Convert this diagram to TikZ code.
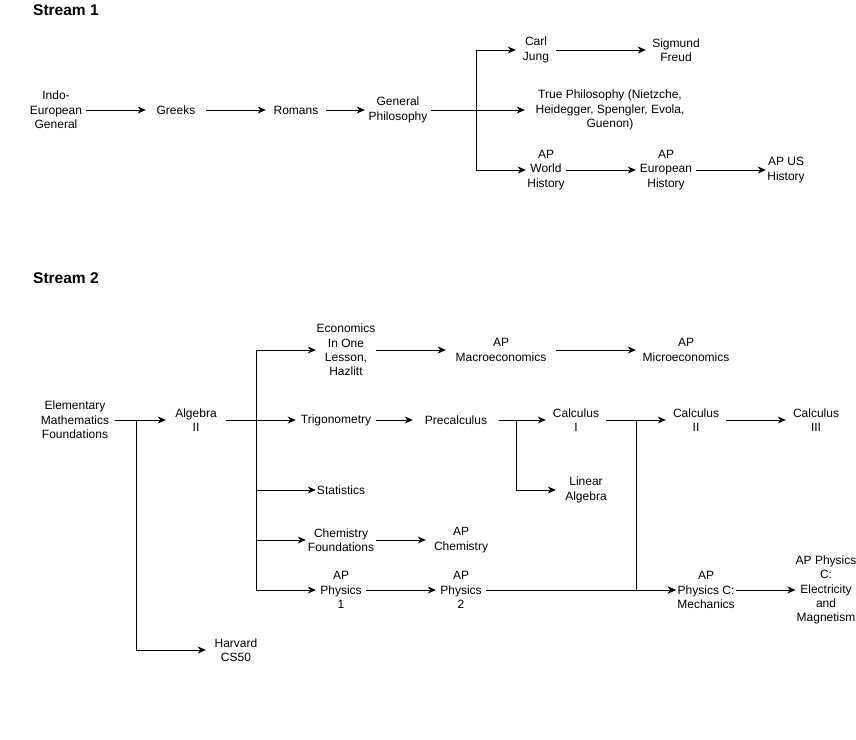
\documentclass[tikz,border=0pt]{standalone}
\usepackage{fontspec}
\setmainfont{Liberation Sans}
\usepackage{tikz}
\usetikzlibrary{arrows.meta}

\begin{document}
\begin{tikzpicture}[
    x=1pt, y=-1pt,
    topic/.style={align=center, inner sep=0pt, minimum width=60pt, minimum height=30pt, font=\fontsize{12}{14.4}\selectfont},
    heading/.style={anchor=west, inner sep=0pt, font=\bfseries\fontsize{15.5}{18}\selectfont},
    arr/.style={-{Stealth[length=8pt, width=7pt, inset=2.5pt]}, line width=1pt}
]
    \useasboundingbox (0,0) rectangle (856,739);

    % Stream 1
    \node [heading] (stream1) at (33,10.5) {Stream 1};
    \node [topic] (indo) at (56,110) {Indo-\\European\\General};
    \node [topic] (greeks) at (176,110) {Greeks};
    \node [topic] (romans) at (296,110) {Romans};
    \node [topic, minimum width=66pt] (genphil) at (398,110) {General\\Philosophy};
    \node [topic, minimum width=40pt] (jung) at (536,50) {Carl\\Jung};
    \node [topic] (freud) at (676,50) {Sigmund\\Freud};
    \node [topic, minimum width=170pt] (truephil) at (610,110) {True Philosophy (Nietzche,\\Heidegger, Spengler, Evola,\\Guenon)};
    \node [topic, minimum width=40pt] (apworld) at (546,170) {AP\\World\\History};
    \node [topic] (apeuro) at (666,170) {AP\\European\\History};
    \node [topic, minimum width=40pt] (apus) at (786,170) {AP US\\History};
    \coordinate (j1) at (476,110);

    \foreach \from/\to in {indo/greeks, greeks/romans, romans/genphil, genphil/truephil, jung/freud, apworld/apeuro, apeuro/apus}
        \draw [arr] (\from) -- (\to);
    \foreach \to in {jung, apworld}
        \draw [arr] (j1) |- (\to);

    % Stream 2
    \node [heading] (stream2) at (33,278) {Stream 2};
    \node [topic, minimum width=80pt] (elem) at (75,420) {Elementary\\Mathematics\\Foundations};
    \node [topic] (alg2) at (196,420) {Algebra\\II};
    \node [topic] (harvard) at (236,650) {Harvard\\CS50};
    \node [topic] (econ) at (346,350) {Economics\\In One\\Lesson,\\Hazlitt};
    \node [topic, minimum width=110pt] (apmacro) at (501,350) {AP\\Macroeconomics};
    \node [topic, minimum width=100pt] (apmicro) at (686,350) {AP\\Microeconomics};
    \node [topic, minimum width=80pt] (trig) at (336,420) {Trigonometry};
    \node [topic, minimum width=86pt] (precalc) at (456,420) {Precalculus};
    \node [topic] (calc1) at (576,420) {Calculus\\I};
    \node [topic] (linalg) at (586,490) {Linear\\Algebra};
    \node [topic] (calc2) at (696,420) {Calculus\\II};
    \node [topic] (calc3) at (816,420) {Calculus\\III};
    \node [topic, minimum width=50pt] (stats) at (341,490) {Statistics};
    \node [topic, minimum width=70pt] (chemfound) at (341,540) {Chemistry\\Foundations};
    \node [topic, minimum width=70pt] (apchem) at (461,540) {AP\\Chemistry};
    \node [topic, minimum width=50pt] (apphys1) at (341,590) {AP\\Physics\\1};
    \node [topic, minimum width=50pt] (apphys2) at (461,590) {AP\\Physics\\2};
    \node [topic] (mechc) at (706,590) {AP\\Physics C:\\Mechanics};
    \node [topic] (emc) at (826,590) {AP Physics\\C:\\Electricity\\and\\Magnetism};
    \coordinate (j2) at (136,420);
    \coordinate (j3) at (256,420);
    \coordinate (j4) at (516,420);
    \coordinate (j5) at (636,420);

    \foreach \from/\to in {elem/alg2, alg2/trig, econ/apmacro, apmacro/apmicro, trig/precalc, precalc/calc1, calc1/calc2, calc2/calc3, chemfound/apchem, apphys1/apphys2, apphys2/mechc, mechc/emc}
        \draw [arr] (\from) -- (\to);
    \draw [arr] (j2) |- (harvard);
    \foreach \to in {econ, stats, chemfound, apphys1}
        \draw [arr] (j3) |- (\to);
    \draw [arr] (j4) |- (linalg);
    \draw [arr] (j5) |- (mechc);
\end{tikzpicture}
\end{document}
